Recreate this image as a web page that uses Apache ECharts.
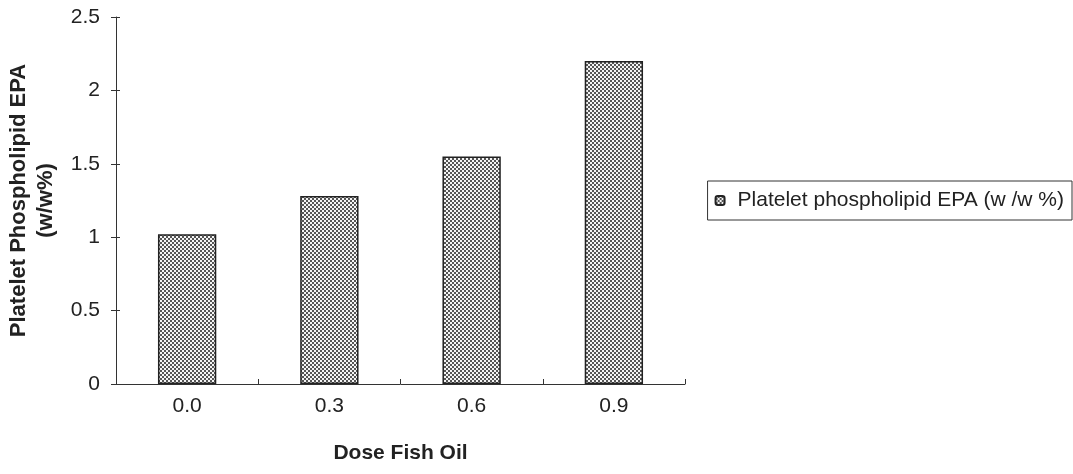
<!DOCTYPE html>
<html>
<head>
<meta charset="utf-8">
<script src="https://cdn.jsdelivr.net/npm/echarts@6/dist/echarts.min.js"></script>
<style>
  html, body { margin: 0; padding: 0; background: #ffffff; }
  #chart { width: 1073px; height: 474px; }
</style>
</head>
<body>
<div id="chart"></div>
<script>
// Dose groups and mean platelet phospholipid EPA content
const categories = ['0.0', '0.3', '0.6', '0.9'];
const epaValues = [1.02, 1.28, 1.55, 2.20];
const seriesName = 'Platelet phospholipid EPA (w /w %)';
const yAxisTitle = 'Platelet Phospholipid EPA\n(w/w%)';
const xAxisTitle = 'Dose Fish Oil';

// Stippled fill used for the bars and the legend swatch
const tile = document.createElement('canvas');
tile.width = 4; tile.height = 4;
const tctx = tile.getContext('2d');
tctx.fillStyle = '#555555';
tctx.fillRect(0, 0, 4, 4);
tctx.fillStyle = '#f4f4f4';
tctx.fillRect(0, 0, 2, 2);
tctx.fillRect(2, 2, 2, 2);

const font = 'Liberation Sans, Arial, sans-serif';
const ink = '#222222';
const axisInk = '#333333';
const gridBox = { left: 116, right: 388, top: 17, bottom: 90, outerBoundsMode: 'none', containLabel: false };

const chart = echarts.init(document.getElementById('chart'), null, { renderer: 'canvas' });
chart.setOption({
  backgroundColor: '#ffffff',
  animation: false,
  textStyle: { fontFamily: font },
  grid: [
    Object.assign({}, gridBox),
    Object.assign({}, gridBox)
  ],
  legend: {
    data: [seriesName],
    right: 1,
    top: 181,
    orient: 'vertical',
    itemWidth: 9,
    itemHeight: 9,
    padding: [9, 8, 9, 7],
    borderColor: '#333333',
    borderWidth: 1,
    textStyle: { fontSize: 21, color: ink, fontFamily: font, padding: [0, 0, 0, 8] }
  },
  xAxis: [
    {
      type: 'category',
      gridIndex: 0,
      data: categories,
      name: xAxisTitle,
      nameLocation: 'middle',
      nameGap: 59,
      nameTextStyle: { fontSize: 21, fontWeight: 'bold', color: ink, fontFamily: font },
      axisLine: { lineStyle: { color: axisInk, width: 1 } },
      axisTick: { length: 5, lineStyle: { color: axisInk } },
      axisLabel: { fontSize: 21, color: ink, margin: 12, fontFamily: font }
    },
    {
      // inner half of the crossing tick marks
      type: 'category',
      gridIndex: 1,
      data: categories,
      axisLine: { show: false },
      axisTick: { show: true, inside: true, length: 5, lineStyle: { color: axisInk } },
      axisLabel: { show: false }
    }
  ],
  yAxis: [
    {
      type: 'value',
      gridIndex: 0,
      min: 0,
      max: 2.5,
      interval: 0.5,
      name: yAxisTitle,
      nameLocation: 'middle',
      nameRotate: 90,
      nameGap: 50,
      nameTextStyle: { fontSize: 22, fontWeight: 'bold', color: ink, lineHeight: 27, fontFamily: font },
      axisLine: { show: true, lineStyle: { color: axisInk, width: 1 } },
      axisTick: { show: true, length: 5, lineStyle: { color: axisInk } },
      splitLine: { show: false },
      axisLabel: { fontSize: 21, color: ink, margin: 16, fontFamily: font }
    },
    {
      type: 'value',
      gridIndex: 1,
      min: 0,
      max: 2.5,
      interval: 0.5,
      axisLine: { show: false },
      axisTick: { show: true, inside: true, length: 4, lineStyle: { color: axisInk } },
      splitLine: { show: false },
      axisLabel: { show: false }
    }
  ],
  series: [
    {
      name: seriesName,
      type: 'bar',
      xAxisIndex: 0,
      yAxisIndex: 0,
      data: epaValues,
      barWidth: '41%',
      itemStyle: {
        color: { image: tile, repeat: 'repeat' },
        borderColor: '#222222',
        borderWidth: 1.5
      }
    },
    {
      // transparent companion series so the second (tick-only) axes are laid out
      name: 'ticks',
      type: 'bar',
      xAxisIndex: 1,
      yAxisIndex: 1,
      data: epaValues,
      silent: true,
      barWidth: '41%',
      itemStyle: { opacity: 0 }
    }
  ]
});
</script>
</body>
</html>
